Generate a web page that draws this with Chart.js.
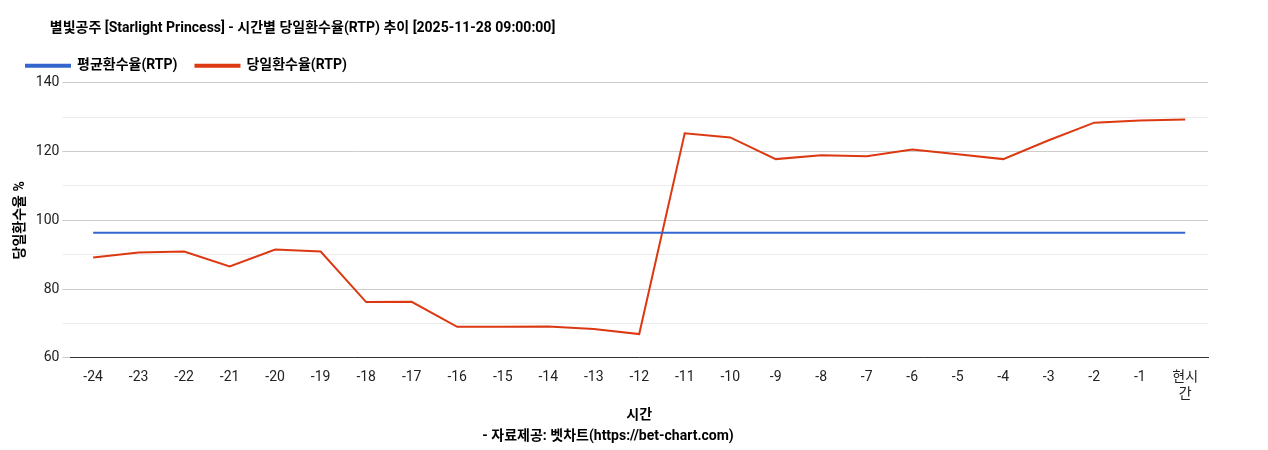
<!DOCTYPE html>
<html><head><meta charset="utf-8">
<script src="https://cdn.jsdelivr.net/npm/chart.js@4"></script>
<style>html,body{margin:0;padding:0;background:#fff}#w{width:1268px;height:450px}</style>
</head><body><div id="w"><canvas id="c"></canvas></div>
<script>
const categories=['-24','-23','-22','-21','-20','-19','-18','-17','-16','-15','-14','-13','-12','-11','-10','-9','-8','-7','-6','-5','-4','-3','-2','-1',['현시','간']];
const avgRtp=[96.4,96.4,96.4,96.4,96.4,96.4,96.4,96.4,96.4,96.4,96.4,96.4,96.4,96.4,96.4,96.4,96.4,96.4,96.4,96.4,96.4,96.4,96.4,96.4,96.4];
const dayRtp=[89.2,90.6,90.9,86.6,91.5,90.9,76.2,76.3,69.0,69.0,69.1,68.4,66.9,125.3,124.1,117.8,118.9,118.6,120.6,119.2,117.8,123.3,128.4,129.0,129.3];
const F='Roboto,"Noto Sans CJK KR",sans-serif';
Chart.defaults.font.family=F;
new Chart(document.getElementById('c'),{type:'line',
data:{labels:categories,datasets:[
{label:'평균환수율(RTP)',data:avgRtp,borderColor:'#3366cc',backgroundColor:'#3366cc',borderWidth:2,pointRadius:0,tension:0},
{label:'당일환수율(RTP)',data:dayRtp,borderColor:'#dc3912',backgroundColor:'#dc3912',borderWidth:2,pointRadius:0,tension:0}]},
options:{responsive:true,maintainAspectRatio:false,animation:false,
layout:{padding:{left:8,right:60,top:20,bottom:5}},
plugins:{title:{display:true,text:'            별빛공주 [Starlight Princess] - 시간별 당일환수율(RTP) 추이 [2025-11-28 09:00:00]',align:'start',color:'#000',font:{size:14,weight:'bold'},padding:{top:0,bottom:4}},
legend:{align:'start',labels:{boxWidth:44,boxHeight:2,color:'#000',font:{size:14,weight:'bold'},padding:18},padding:{bottom:12}},
subtitle:{display:true,position:'bottom',text:'- 자료제공: 벳차트(https://bet-chart.com)',color:'#000',font:{size:14,weight:'bold'},padding:{top:0}},tooltip:{enabled:false}},
scales:{x:{offset:true,grid:{display:false},border:{color:'#333'},ticks:{color:'#222',font:{size:14},maxRotation:0,autoSkip:false},title:{display:true,text:'시간',color:'#000',font:{size:14,weight:'bold'},padding:{top:2,bottom:4}}},
y:{min:60,max:140,ticks:{stepSize:10,color:'#222',font:{size:14},callback:v=>v%20===0?v:''},grid:{color:c=>c.tick&&c.tick.value%20===0?'#ccc':'#ebebeb'},border:{display:false},title:{display:true,text:'당일환수율 %',color:'#000',font:{size:14,weight:'bold'}}}}}});
</script></body></html>
